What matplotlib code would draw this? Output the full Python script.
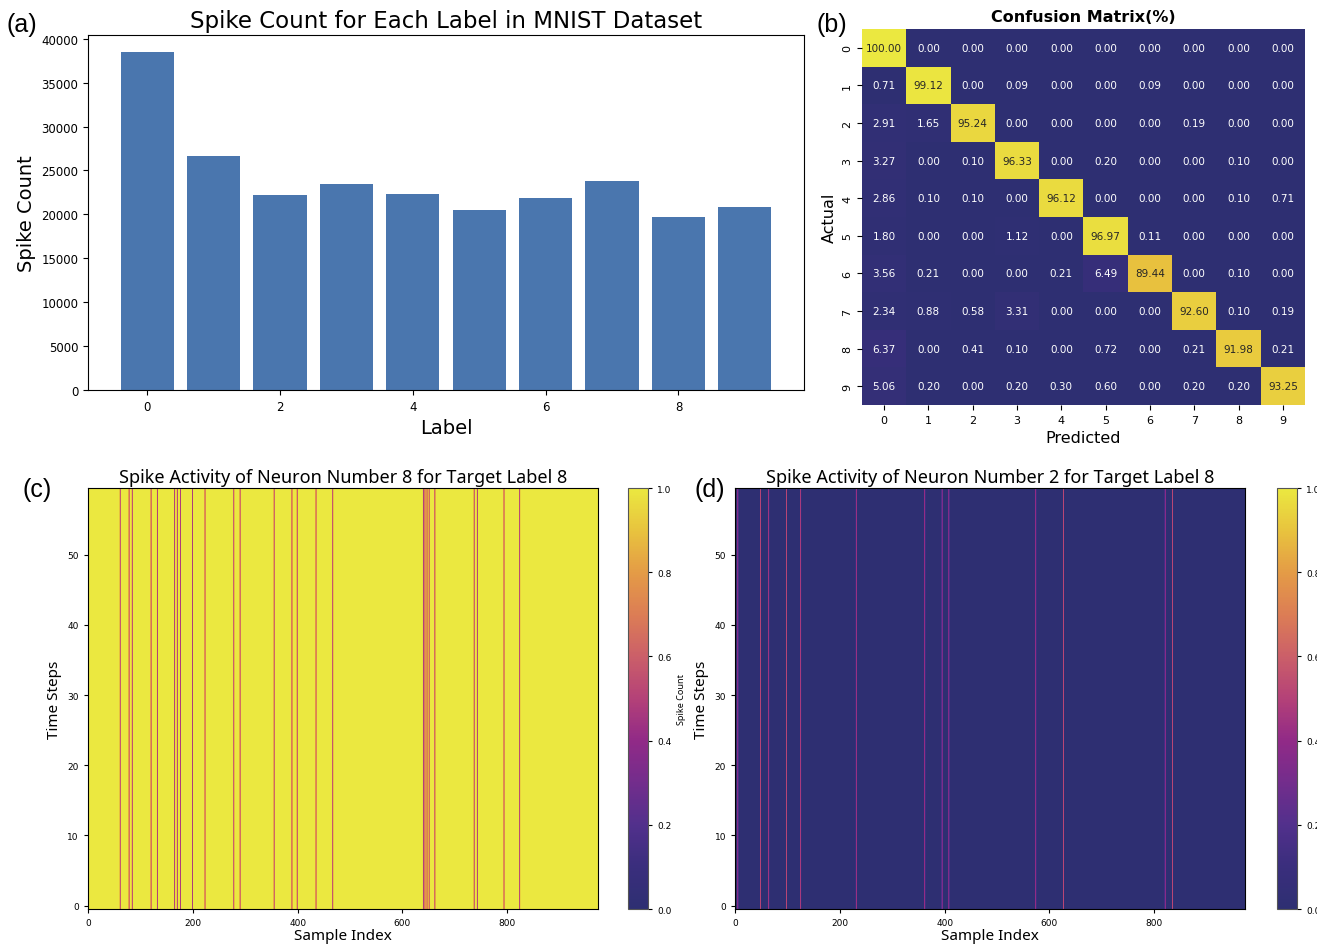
import numpy as np
import matplotlib
matplotlib.use('Agg')
import matplotlib.pyplot as plt
import seaborn as sns
from matplotlib.colors import LinearSegmentedColormap

# spike counts per MNIST label
labels = np.arange(10)
spike_counts = [38500, 26700, 22250, 23500, 22350, 20450, 21900, 23750, 19750, 20800]

# confusion matrix in percent (rows: actual, cols: predicted)
conf_pct = np.array([
    [100.00, 0.00, 0.00, 0.00, 0.00, 0.00, 0.00, 0.00, 0.00, 0.00],
    [0.71, 99.12, 0.00, 0.09, 0.00, 0.00, 0.09, 0.00, 0.00, 0.00],
    [2.91, 1.65, 95.24, 0.00, 0.00, 0.00, 0.00, 0.19, 0.00, 0.00],
    [3.27, 0.00, 0.10, 96.33, 0.00, 0.20, 0.00, 0.00, 0.10, 0.00],
    [2.86, 0.10, 0.10, 0.00, 96.12, 0.00, 0.00, 0.00, 0.10, 0.71],
    [1.80, 0.00, 0.00, 1.12, 0.00, 96.97, 0.11, 0.00, 0.00, 0.00],
    [3.56, 0.21, 0.00, 0.00, 0.21, 6.49, 89.44, 0.00, 0.10, 0.00],
    [2.34, 0.88, 0.58, 3.31, 0.00, 0.00, 0.00, 92.60, 0.10, 0.19],
    [6.37, 0.00, 0.41, 0.10, 0.00, 0.72, 0.00, 0.21, 91.98, 0.21],
    [5.06, 0.20, 0.00, 0.20, 0.30, 0.60, 0.00, 0.20, 0.20, 93.25],
])

# spike rasters for the 974 test samples of label 8
n_samples = 974
n_steps = 60
neuron8_silent = [61, 78, 84, 120, 132, 165, 170, 176, 199, 223, 278, 290, 355,
                  389, 399, 435, 467, 640, 643, 647, 651, 662, 737, 743, 794, 824]
neuron2_active = [5, 48, 64, 98, 125, 231, 362, 395, 408, 574, 627, 821, 835]

act8 = np.ones((n_steps, n_samples))
act8[:, neuron8_silent] = 0.0
act2 = np.zeros((n_steps, n_samples))
act2[:, neuron2_active] = 1.0

# muted plasma-like colormap
cmap = LinearSegmentedColormap.from_list('muted_plasma', [
    (0.0, '#2e2f72'), (0.1, '#3a2e7d'), (0.2, '#52308c'), (0.3, '#732d8c'),
    (0.4, '#912a87'), (0.5, '#b44178'), (0.6, '#cb5f69'), (0.7, '#dc7d55'),
    (0.8, '#e49b46'), (0.9, '#e8c33e'), (1.0, '#ebe840')])

fig = plt.figure(figsize=(13.17, 9.45), dpi=100)

# (a) bar chart
ax1 = fig.add_axes([0.0668, 0.5862, 0.5437, 0.3757])
ax1.bar(labels, spike_counts, color='#4a76ae')
ax1.set_title('Spike Count for Each Label in MNIST Dataset', fontsize=16.5)
ax1.set_xlabel('Label', fontsize=14)
ax1.set_ylabel('Spike Count', fontsize=14)
ax1.set_xticks([0, 2, 4, 6, 8])
ax1.tick_params(labelsize=8.5)

# (b) confusion matrix
ax2 = fig.add_axes([0.6545, 0.5704, 0.3364, 0.3979])
sns.heatmap(conf_pct, annot=True, fmt='.2f', cmap=cmap, vmin=0, vmax=100,
            cbar=False, ax=ax2, annot_kws={'fontsize': 7.5})
ax2.set_title('Confusion Matrix(%)', fontsize=11.5, fontweight='bold')
ax2.set_xlabel('Predicted', fontsize=11.5)
ax2.set_ylabel('Actual', fontsize=11.5)
ax2.tick_params(labelsize=8)
plt.setp(ax2.get_yticklabels(), rotation=90, va='center')

# (c) and (d) spike rasters
raster_pos = [(0.0668, 0.4768, 'Spike Count'), (0.5581, 0.9696, None)]
rasters = [(act8, 'Spike Activity of Neuron Number 8 for Target Label 8'),
           (act2, 'Spike Activity of Neuron Number 2 for Target Label 8')]
for (x0, cx, cblabel), (act, title) in zip(raster_pos, rasters):
    ax = fig.add_axes([x0, 0.0370, 0.3872, 0.4455])
    im = ax.imshow(act, aspect='auto', origin='lower', cmap=cmap, vmin=0, vmax=1,
                   interpolation='hanning', interpolation_stage='data')
    ax.set_title(title, fontsize=13, family='Noto Sans', pad=4)
    ax.set_xlabel('Sample Index', fontsize=11, family='Noto Sans', labelpad=1)
    ax.set_ylabel('Time Steps', fontsize=11, family='Noto Sans')
    ax.set_xticks([0, 200, 400, 600, 800])
    ax.set_yticks([0, 10, 20, 30, 40, 50])
    ax.tick_params(labelsize=6.5, length=3)
    cax = fig.add_axes([cx, 0.0370, 0.0152, 0.4455])
    cb = fig.colorbar(im, cax=cax)
    cb.set_ticks([0, 0.2, 0.4, 0.6, 0.8, 1.0])
    cb.ax.tick_params(labelsize=6.5, length=3)
    cb.outline.set_edgecolor('#555555')
    if cblabel:
        cb.set_label(cblabel, fontsize=6.5, family='Noto Sans')

# panel letters
for x, y, s in [(6, 25, '(a)'), (817, 25, '(b)'), (22, 490, '(c)'), (695, 490, '(d)')]:
    fig.text(x / 1317, 1 - y / 945, s, fontsize=18, family='Liberation Sans',
             ha='left', va='center')

fig.savefig('out.png', dpi=100)
